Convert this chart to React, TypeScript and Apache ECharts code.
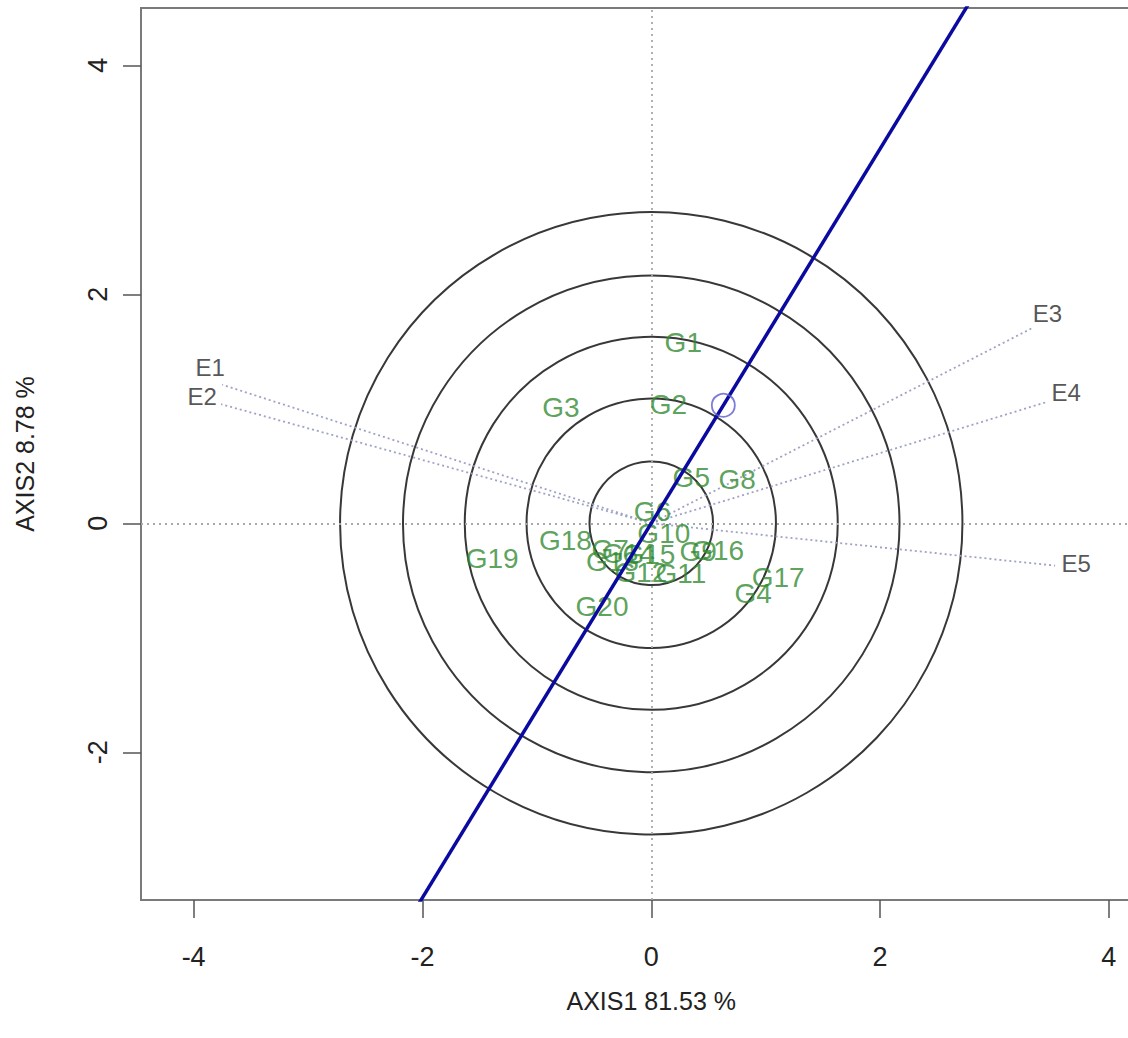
import React, { useEffect, useRef } from "react";
import * as echarts from "echarts";

const X_TICKS = [-4, -2, 0, 2, 4];
const Y_TICKS = [-2, 0, 2, 4];
const X_AXIS_NAME = "AXIS1 81.53 %";
const Y_AXIS_NAME = "AXIS2 8.78 %";

const GENOTYPES = ["G1", "G2", "G3", "G4", "G5", "G6", "G7", "G8", "G9", "G10", "G11", "G12", "G13", "G14", "G15", "G16", "G17", "G18", "G19", "G20"];
const GEN_X = [0.28, 0.15, -0.79, 0.89, 0.35, 0.01, -0.36, 0.75, 0.41, 0.11, 0.26, -0.09, -0.34, -0.2, -0.02, 0.58, 1.11, -0.75, -1.39, -0.43];
const GEN_Y = [1.58, 1.04, 1.01, -0.61, 0.4, 0.1, -0.23, 0.38, -0.25, -0.09, -0.44, -0.43, -0.33, -0.26, -0.27, -0.24, -0.47, -0.15, -0.31, -0.73];

const ENVIRONMENTS = ["E1", "E2", "E3", "E4", "E5"];
const ENV_X = [-3.75, -3.76, 3.34, 3.46, 3.53];
const ENV_Y = [1.21, 1.04, 1.71, 1.06, -0.37];

const AVERAGE_ENV = [0.63, 1.03];
const CIRCLE_RADII = [0.54, 1.09, 1.63, 2.17, 2.72];

// label offsets (style) for environment names, in px
const ENV_LABEL_OFFSETS = [[-12, -17], [-19, -8], [14, -14], [19, -9], [21, -2]];

const FONT = "'Liberation Sans', Arial, Helvetica, sans-serif";

export default function App() {
  const ref = useRef<HTMLDivElement>(null);
  useEffect(() => {
    if (!ref.current) return;
    const chart = echarts.init(ref.current, null, { renderer: "svg" });

    const envLineSeries = ENVIRONMENTS.map((e, i) => ({
      type: "line",
      name: e,
      data: [[0, 0], [ENV_X[i], ENV_Y[i]]],
      symbol: "none",
      lineStyle: { color: "#9ea3c4", width: 1.8, type: [2, 3] },
      z: 3,
      silent: true,
    }));

    const option = {
      animation: false,
      backgroundColor: "#ffffff",
      grid: {
        left: 141,
        top: 8,
        width: 1020.5,
        height: 892,
        containLabel: false,
        outerBoundsMode: "none",
        show: true,
        borderColor: "#7a7a7a",
        borderWidth: 2,
        backgroundColor: "transparent",
      },
      xAxis: {
        type: "value",
        min: -4.46,
        max: 4.46,
        name: X_AXIS_NAME,
        nameLocation: "middle",
        nameGap: 88,
        nameTextStyle: { fontFamily: FONT, fontSize: 25, color: "#222" },
        axisLine: { show: false, onZero: false },
        splitLine: { show: false },
        axisTick: {
          show: true,
          length: 18,
          customValues: X_TICKS,
          lineStyle: { color: "#555", width: 1.5 },
        },
        axisLabel: {
          customValues: X_TICKS,
          margin: 43,
          fontFamily: FONT,
          fontSize: 27,
          color: "#222",
        },
      },
      yAxis: {
        type: "value",
        min: -3.29,
        max: 4.5,
        name: Y_AXIS_NAME,
        nameLocation: "middle",
        nameGap: 104,
        nameTextStyle: { fontFamily: FONT, fontSize: 25, color: "#222" },
        axisLine: { show: false, onZero: false },
        splitLine: { show: false },
        axisTick: {
          show: true,
          length: 18,
          customValues: Y_TICKS,
          lineStyle: { color: "#555", width: 1.5 },
        },
        axisLabel: {
          customValues: Y_TICKS,
          rotate: 90,
          margin: 30,
          fontFamily: FONT,
          fontSize: 27,
          color: "#222",
        },
      },
      series: [
        {
          type: "custom",
          name: "circles",
          data: CIRCLE_RADII.map((r) => [r]),
          encode: { x: 0 },
          clip: true,
          z: 2,
          silent: true,
          renderItem: (params: any, api: any) => {
            const c = api.coord([0, 0]);
            const rr = api.size([api.value(0), 0])[0];
            return {
              type: "circle",
              shape: { cx: c[0], cy: c[1], r: rr },
              style: { fill: "none", stroke: "#383838", lineWidth: 2 },
            };
          },
        },
        ...envLineSeries,
        {
          type: "scatter",
          name: "envLabels",
          data: ENVIRONMENTS.map((e, i) => ({
            name: e,
            value: [ENV_X[i], ENV_Y[i]],
            label: { offset: ENV_LABEL_OFFSETS[i] },
          })),
          symbolSize: 1,
          itemStyle: { color: "transparent" },
          label: {
            show: true,
            position: "inside",
            formatter: (p: any) => p.name,
            fontFamily: FONT,
            fontSize: 24,
            color: "#2a2a2a",
          },
          z: 4,
          silent: true,
          markLine: {
            silent: true,
            symbol: "none",
            label: { show: false },
            lineStyle: { color: "#a8a8a8", width: 1.8, type: [2, 4] },
            data: [{ xAxis: 0 }, { yAxis: 0 }],
          },
        },
        {
          type: "scatter",
          name: "genotypes",
          data: GENOTYPES.map((g, i) => ({ name: g, value: [GEN_X[i], GEN_Y[i]] })),
          symbolSize: 1,
          itemStyle: { color: "transparent" },
          label: {
            show: true,
            position: "inside",
            formatter: (p: any) => p.name,
            fontFamily: FONT,
            fontSize: 28,
            color: "#318a31",
          },
          z: 5,
          silent: true,
        },
        {
          type: "line",
          name: "ATC",
          data: [
            [AVERAGE_ENV[0] * -3.4, AVERAGE_ENV[1] * -3.4],
            [AVERAGE_ENV[0] * 4.6, AVERAGE_ENV[1] * 4.6],
          ],
          symbol: "none",
          clip: true,
          lineStyle: { color: "#0a0aa0", width: 3.5 },
          z: 6,
          silent: true,
        },
        {
          type: "scatter",
          name: "average",
          data: [AVERAGE_ENV],
          symbol: "circle",
          symbolSize: 23,
          itemStyle: { color: "transparent", borderColor: "#5b5bd0", borderWidth: 1.8 },
          z: 7,
          silent: true,
        },
      ],
    };

    chart.setOption(option as any);
    return () => chart.dispose();
  }, []);

  return (
    <div
      ref={ref}
      style={{ position: "fixed", left: 0, top: 0, width: 1128, height: 1038, background: "#fff" }}
    />
  );
}
